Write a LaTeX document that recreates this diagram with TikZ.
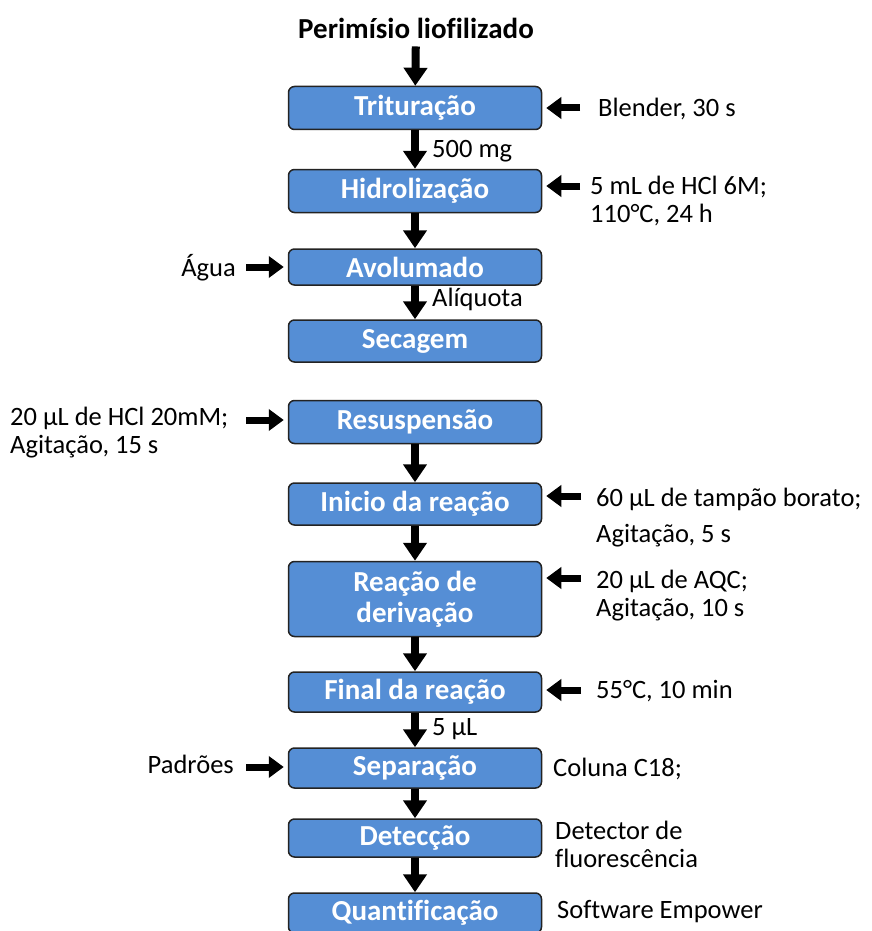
\documentclass[tikz,border=0pt]{standalone}
\usepackage{fontspec}
\setmainfont{Carlito}[Ligatures={TeX,CommonOff}]
\usetikzlibrary{arrows.meta}
\definecolor{stepblue}{RGB}{85, 142, 213}
\definecolor{stepedge}{RGB}{35, 35, 35}

\begin{document}
\begin{tikzpicture}[x=1pt, y=-1pt,
        box/.style={draw=stepedge, line width=1.5pt, rounded corners=6pt, fill=stepblue, minimum width=253pt, minimum height=43pt, inner sep=0pt, align=center, text=white, font=\fontsize{29}{31}\selectfont\bfseries},
        note/.style={inner sep=0pt, align=left, font=\fontsize{26.5}{28}\selectfont},
        arrow/.style={line width=8pt, -{Triangle[width=23pt, length=18pt]}},
        sidearrow/.style={line width=7pt, -{Triangle[width=21pt, length=15pt]}, shorten >=4pt}
      ]
        \useasboundingbox (0,0) rectangle (872,931);
        \node[inner sep=0pt, font=\fontsize{29}{31}\selectfont\bfseries] (title) at (416,28) {Perimísio liofilizado};
        \node[box] (trit) at (415,108) {Trituração};
        \node[box] (hidro) at (415,191) {Hidrolização};
        \node[box, minimum height=36pt] (avol) at (415,267) {Avolumado};
        \node[box, minimum height=42pt] (sec) at (415,341) {Secagem};
        \node[box] (resusp) at (415,422) {Resuspensão};
        \node[box, minimum height=42pt] (inicio) at (415,504) {Inicio da reação};
        \node[box, minimum height=75pt] (deriv) at (415,599) {Reação de\\derivação};
        \node[box, minimum height=40pt] (final) at (415,692) {Final da reação};
        \node[box, minimum height=40pt] (sep) at (415,768) {Separação};
        \node[box, minimum height=38pt] (detec) at (415,838) {Detecção};
        \node[box, minimum height=40pt] (quant) at (415,913) {Quantificação};
        \draw[arrow, shorten <=8pt] (title) -- (trit);
        \draw[arrow] (trit) -- (hidro);
        \draw[arrow] (hidro) -- (avol);
        \draw[arrow] (avol) -- (sec);
        \draw[arrow] (resusp) -- (inicio);
        \draw[arrow] (inicio) -- (deriv);
        \draw[arrow] (deriv) -- (final);
        \draw[arrow] (final) -- (sep);
        \draw[arrow] (sep) -- (detec);
        \draw[arrow] (detec) -- (quant);
        \node[note, anchor=west] (mass) at (432,151) {500 mg};
        \node[note, anchor=west] (aliq) at (432,299) {Alíquota};
        \node[note, anchor=west] (vol) at (432,729) {5 µL};
        \node[note, anchor=west] (blender) at (598,109) {Blender, 30 s};
        \node[note, anchor=west] (hcl) at (590,201) {5 mL de HCl 6M;\\110°C, 24 h};
        \node[note, anchor=east] (agua) at (236,268) {Água};
        \node[note, anchor=west] (hclmm) at (10,433) {20 µL de HCl 20mM;\\Agitação, 15 s};
        \node[note, anchor=west] (borato) at (596,518) {60 µL de tampão borato;\\[8pt]Agitação, 5 s};
        \node[note, anchor=west] (aqc) at (596,596) {20 µL de AQC;\\Agitação, 10 s};
        \node[note, anchor=west] (temp) at (596,691) {55°C, 10 min};
        \node[note, anchor=east] (padroes) at (234,764) {Padrões};
        \node[note, anchor=west] (coluna) at (553,769) {Coluna C18;};
        \node[note, anchor=west] (detector) at (555,844) {Detector de\\fluorescência};
        \node[note, anchor=west] (software) at (557,912) {Software Empower};
        \coordinate (in-trit) at (580,108);
        \coordinate (in-hidro) at (580,186);
        \coordinate (in-avol) at (246,267);
        \coordinate (in-resusp) at (246,420);
        \coordinate (in-inicio) at (581,496);
        \coordinate (in-deriv) at (581,578);
        \coordinate (in-final) at (581,690);
        \coordinate (in-sep) at (246,767);
        \draw[sidearrow] (in-trit) -- (trit.east |- in-trit);
        \draw[sidearrow] (in-hidro) -- (hidro.east |- in-hidro);
        \draw[sidearrow] (in-avol) -- (avol.west |- in-avol);
        \draw[sidearrow] (in-resusp) -- (resusp.west |- in-resusp);
        \draw[sidearrow] (in-inicio) -- (inicio.east |- in-inicio);
        \draw[sidearrow] (in-deriv) -- (deriv.east |- in-deriv);
        \draw[sidearrow] (in-final) -- (final.east |- in-final);
        \draw[sidearrow] (in-sep) -- (sep.west |- in-sep);
      \end{tikzpicture}
\end{document}
